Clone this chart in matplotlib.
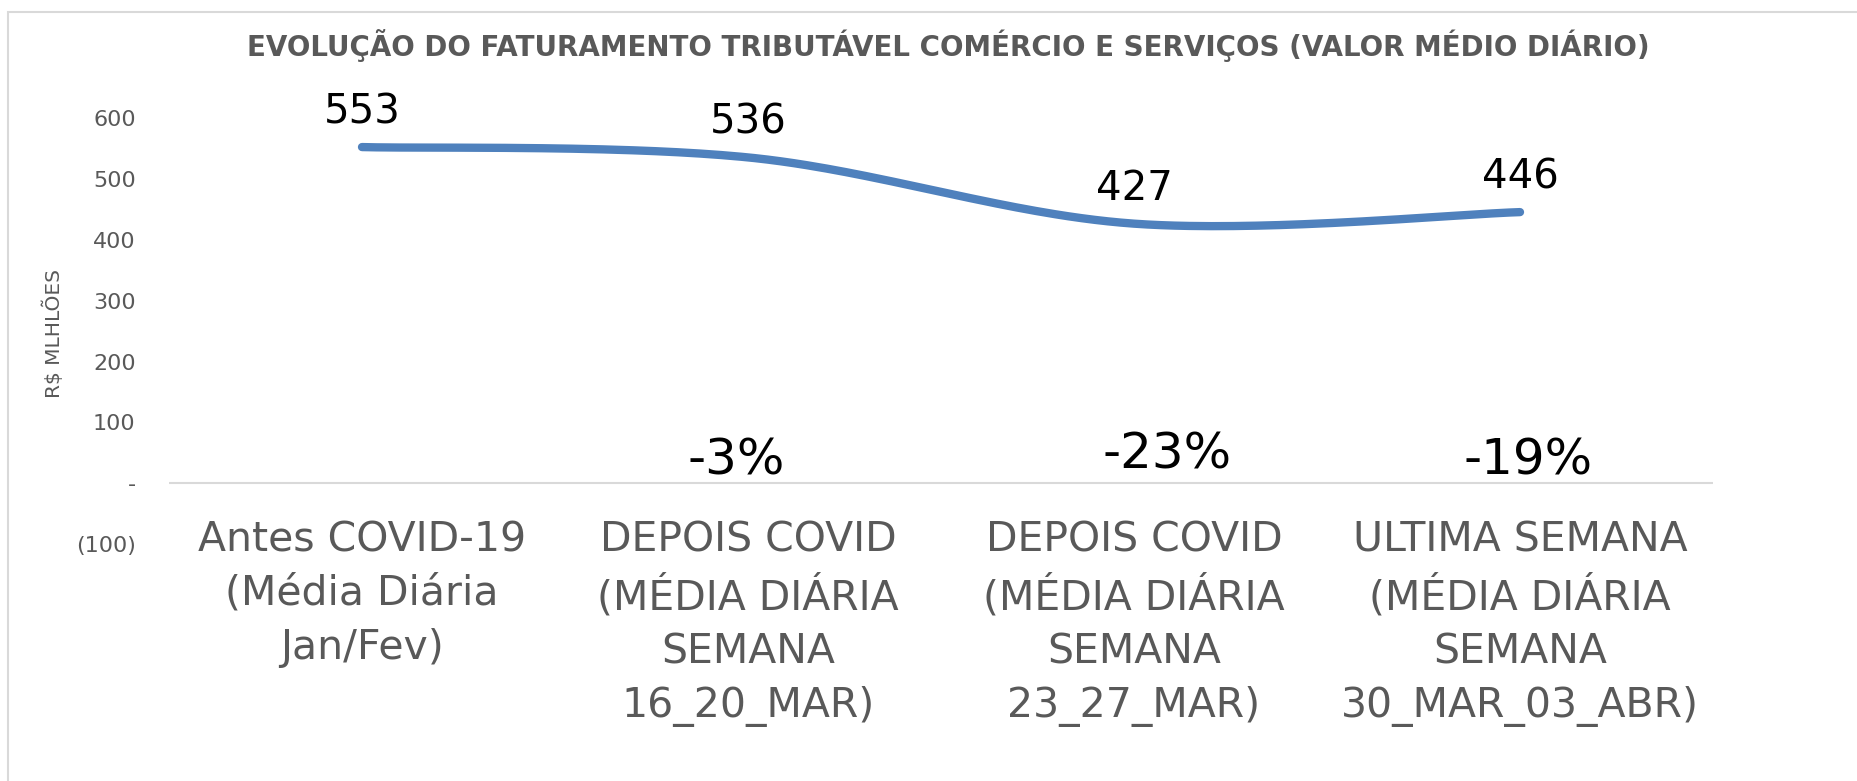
import numpy as np
import matplotlib
matplotlib.use("Agg")
import matplotlib.pyplot as plt
from matplotlib.patches import Rectangle

# ---- data ----
categories = [
    "Antes COVID-19\n(Média Diária\nJan/Fev)",
    "DEPOIS COVID\n(MÉDIA DIÁRIA\nSEMANA\n16_20_MAR)",
    "DEPOIS COVID\n(MÉDIA DIÁRIA\nSEMANA\n23_27_MAR)",
    "ULTIMA SEMANA\n(MÉDIA DIÁRIA\nSEMANA\n30_MAR_03_ABR)",
]
values = [553, 536, 427, 446]
yticks = [-100, 0, 100, 200, 300, 400, 500, 600]
ytick_labels = ["(100)", "-", "100", "200", "300", "400", "500", "600"]
title = "EVOLUÇÃO DO FATURAMENTO TRIBUTÁVEL COMÉRCIO E SERVIÇOS (VALOR MÉDIO DIÁRIO)"
ylabel = "R$ MLHLÕES"

GRAY = "#595959"
BLUE = "#4F81BD"

plt.rcParams['font.family'] = ['DejaVu Sans']

fig = plt.figure(figsize=(18.58, 7.81), dpi=100)
W, H = 1858, 781
ax = fig.add_axes([169 / W, 1 - 544 / H, (1713 - 169) / W, (544 - 118.5) / H])

x = np.arange(len(values))
y = np.array(values, dtype=float)

# Catmull-Rom smoothing (like Excel's smoothed line)
def smooth(xp, yp, n=60):
    P = np.column_stack([xp, yp])
    P = np.vstack([P[0], P, P[-1]])
    out = []
    for i in range(1, len(P) - 2):
        p0, p1, p2, p3 = P[i - 1], P[i], P[i + 1], P[i + 2]
        t = np.linspace(0, 1, n)[:, None]
        c1 = p1 + (p2 - p0) / 6
        c2 = p2 - (p3 - p1) / 6
        b = ((1 - t) ** 3) * p1 + 3 * ((1 - t) ** 2) * t * c1 + 3 * (1 - t) * t ** 2 * c2 + t ** 3 * p2
        out.append(b)
    out = np.vstack(out)
    return out[:, 0], out[:, 1]

sx, sy = smooth(x, y)
ax.plot(sx, sy, color=BLUE, lw=6, solid_capstyle='round')

ax.set_xlim(-0.5, len(values) - 0.5)
ax.set_ylim(-100, 600)
ax.axhline(0, color="#D9D9D9", lw=1.5, zorder=0)

for s in ax.spines.values():
    s.set_visible(False)
ax.set_xticks([])
ax.set_yticks(yticks)
ax.set_yticklabels(ytick_labels)
ax.tick_params(axis='y', length=0, pad=24, labelsize=16, labelcolor=GRAY)

fig.text(53 / W, 1 - 333 / H, ylabel, rotation=90, ha='center', va='center',
         fontsize=14.5, color=GRAY)

# value labels
for xi, v in zip(x, values):
    ax.annotate(f"{v}", (xi, v), xytext=(0, 17), textcoords='offset points',
                ha='center', va='baseline', fontsize=29, color='black')

# percent change labels
pct = [round((v / values[0] - 1) * 100) for v in values[1:]]
pct_pos = [(1 - 0.03, 14), (2 + 0.085, 25), (3 + 0.02, 14)]
for p, (px, py) in zip(pct, pct_pos):
    ax.text(px, py, f"{p}%", ha='center', va='baseline', fontsize=36, color='black')

# category labels
for xi, lab in zip(x, categories):
    ax.text(xi, -61, lab, ha='center', va='top', fontsize=29.5, color=GRAY,
            linespacing=1.44, clip_on=False)

fig.text(948 / W, 1 - 46 / H, title, ha='center', va='center', fontsize=20,
         fontweight='bold', color=GRAY)

fig.patches.append(Rectangle((8 / W, -0.1), 1.2, 1 - 12 / H + 0.1, transform=fig.transFigure,
                             fill=False, edgecolor="#D9D9D9", lw=1.5))

fig.savefig("out.png", dpi=100)
